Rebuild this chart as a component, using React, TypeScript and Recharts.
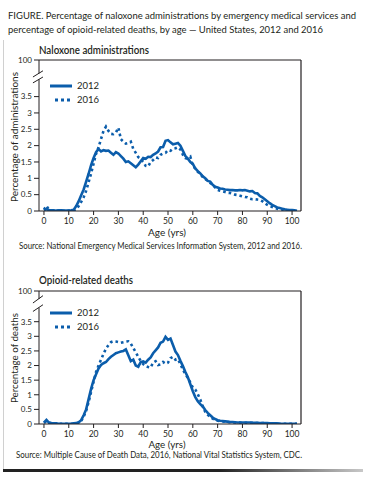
import { LineChart, Line, XAxis, YAxis, ReferenceLine } from 'recharts';

// ages 0..102, one point per year of age
const AGES = Array.from({ length: 103 }, (_, i) => i);

// % of EMS naloxone administrations by age
const NALOXONE_2012 = [
  0.03, 0.05, 0.03, 0.02, 0.02, 0.01, 0.02, 0.02, 0.01, 0.01,
  0.01, 0.02, 0.04, 0.15, 0.3, 0.48, 0.66, 0.9, 1.14, 1.4,
  1.62, 1.8, 1.9, 1.82, 1.86, 1.84, 1.85, 1.78, 1.72, 1.8,
  1.76, 1.68, 1.6, 1.5, 1.52, 1.46, 1.4, 1.34, 1.42, 1.52,
  1.62, 1.6, 1.66, 1.65, 1.72, 1.76, 1.82, 1.95, 1.96, 2.15,
  2.17, 2.1, 2.04, 2.06, 2.08, 2.0, 1.84, 1.68, 1.6, 1.5,
  1.44, 1.3, 1.22, 1.15, 1.06, 1.0, 0.92, 0.9, 0.8, 0.74,
  0.72, 0.69, 0.68, 0.66, 0.65, 0.64, 0.64, 0.63, 0.63, 0.64,
  0.63, 0.64, 0.62, 0.6, 0.61, 0.55, 0.54, 0.46, 0.42, 0.36,
  0.3, 0.24, 0.19, 0.15, 0.11, 0.09, 0.07, 0.05, 0.04, 0.03,
  0.03, 0.02, 0.01,
];
const NALOXONE_2016 = [
  0.04, 0.16, 0.04, 0.02, 0.01, 0.01, 0.01, 0.01, 0.01, 0.01,
  0.01, 0.01, 0.02, 0.05, 0.15, 0.28, 0.42, 0.62, 0.88, 1.15,
  1.45, 1.75, 1.95, 2.2, 2.45, 2.58, 2.45, 2.36, 2.35, 2.4,
  2.55, 2.2, 2.12, 2.06, 2.08, 2.12, 1.9, 1.78, 1.65, 1.6,
  1.5, 1.38, 1.36, 1.5, 1.56, 1.64, 1.62, 1.72, 1.76, 1.78,
  1.86, 1.84, 1.9, 1.92, 1.95, 1.88, 1.72, 1.62, 1.6, 1.66,
  1.38, 1.3, 1.2, 1.14, 1.04, 0.98, 0.92, 0.86, 0.8, 0.72,
  0.64, 0.62, 0.6, 0.58, 0.56, 0.55, 0.53, 0.5, 0.49, 0.47,
  0.45, 0.43, 0.42, 0.38, 0.36, 0.36, 0.35, 0.34, 0.3, 0.24,
  0.19, 0.15, 0.12, 0.09, 0.07, 0.05, 0.04, 0.03, 0.02, 0.02,
  0.01, 0.01, 0.01,
];

// % of opioid-related deaths by age
const DEATHS_2012 = [
  0.05, 0.14, 0.05, 0.03, 0.02, 0.02, 0.01, 0.01, 0.01, 0.01,
  0.01, 0.01, 0.02, 0.03, 0.06, 0.13, 0.3, 0.5, 0.85, 1.2,
  1.5, 1.7, 1.9, 2.02, 2.08, 2.12, 2.22, 2.3, 2.36, 2.42,
  2.45, 2.48, 2.5, 2.55, 2.35, 2.15, 2.2, 2.0, 1.96, 2.12,
  2.14, 2.1, 2.2, 2.28, 2.42, 2.52, 2.62, 2.78, 2.82, 2.98,
  2.88, 2.92, 2.7, 2.48, 2.36, 2.16, 1.98, 1.78, 1.6, 1.36,
  1.12, 0.92, 0.78, 0.68, 0.6, 0.48, 0.38, 0.3, 0.22, 0.17,
  0.13, 0.11, 0.1, 0.09, 0.08, 0.07, 0.07, 0.06, 0.05, 0.05,
  0.05, 0.05, 0.05, 0.05, 0.04, 0.04, 0.04, 0.03, 0.03, 0.03,
  0.03, 0.02, 0.02, 0.02, 0.02, 0.01, 0.01, 0.01, 0.01, 0.01,
  0.01, 0.01, 0.01,
];
const DEATHS_2016 = [
  0.04, 0.1, 0.04, 0.02, 0.01, 0.01, 0.01, 0.01, 0.01, 0.01,
  0.01, 0.01, 0.01, 0.02, 0.04, 0.1, 0.25, 0.45, 0.75, 1.1,
  1.45, 1.78, 2.0, 2.2, 2.4, 2.58, 2.7, 2.8, 2.83, 2.82,
  2.8, 2.78, 2.8, 2.82, 2.83, 2.75, 2.6, 2.45, 2.3, 2.15,
  2.05, 1.98, 1.95, 1.93, 2.1, 2.15, 2.02, 2.04, 2.12, 2.06,
  2.1, 2.25, 2.3, 2.2, 2.22, 2.05, 1.86, 1.7, 1.58, 1.42,
  1.24, 1.18, 1.02, 0.84, 0.6, 0.42, 0.32, 0.24, 0.18, 0.14,
  0.11, 0.1, 0.09, 0.08, 0.07, 0.06, 0.06, 0.05, 0.05, 0.05,
  0.04, 0.04, 0.04, 0.04, 0.04, 0.03, 0.03, 0.03, 0.03, 0.03,
  0.02, 0.02, 0.02, 0.02, 0.02, 0.01, 0.01, 0.01, 0.01, 0.01,
  0.01, 0.01, 0.01,
];

const X_TICKS = [0, 10, 20, 30, 40, 50, 60, 70, 80, 90, 100];
const Y_TICKS = [0, 0.5, 1, 1.5, 2, 2.5, 3, 3.5];
const SERIES = ['2012', '2016'];

const BLUE = '#0b5dab';
const INK = '#231f20';
const FONT = 'Lato, "Open Sans", sans-serif';
const X_MIN = -2;
const X_MAX = 103.6;

const naloxoneRows = AGES.map((age, i) => ({
  age,
  '2012': NALOXONE_2012[i],
  '2016': NALOXONE_2016[i],
}));
const deathRows = AGES.map((age, i) => ({
  age,
  '2012': DEATHS_2012[i],
  '2016': DEATHS_2016[i],
}));

type Slash = [number, number, number, number];

type PanelProps = {
  rows: Record<string, number>[];
  top: number;
  height: number;
  marginTop: number;
  yMax: number;
  gap: [number, number]; // where the y axis is broken
  slashes: Slash[];
};

const Panel = ({ rows, top, height, marginTop, yMax, gap, slashes }: PanelProps) => (
  <div style={{ position: 'absolute', left: 0, top, width: 366, height }}>
    <LineChart
      width={366}
      height={height}
      data={rows}
      margin={{ top: marginTop, right: 65, bottom: 0, left: 0 }}
    >
      <XAxis
        dataKey="age"
        type="number"
        domain={[X_MIN, X_MAX]}
        ticks={X_TICKS}
        interval={0}
        height={20}
        tickSize={4}
        tickMargin={2.5}
        axisLine={{ stroke: INK }}
        tickLine={{ stroke: INK }}
        tick={{ fill: INK, fontSize: 8.5, fontFamily: FONT }}
      />
      <YAxis
        type="number"
        domain={[0, yMax]}
        ticks={[...Y_TICKS, yMax]}
        interval={0}
        allowDataOverflow
        width={39}
        tickSize={5}
        tickMargin={2}
        axisLine={false}
        tickLine={{ stroke: INK }}
        tick={{ fill: INK, fontSize: 8, fontFamily: FONT }}
        tickFormatter={(v: number) => (v > 4 ? '100' : String(v))}
      />
      {/* frame + broken left axis */}
      <ReferenceLine y={yMax} stroke={INK} strokeWidth={1.2} />
      <ReferenceLine x={X_MAX} stroke={INK} strokeWidth={1.2} />
      <ReferenceLine
        segment={[{ x: X_MIN, y: 0 }, { x: X_MIN, y: gap[0] }]}
        stroke={INK}
        ifOverflow="visible"
      />
      <ReferenceLine
        segment={[{ x: X_MIN, y: gap[1] }, { x: X_MIN, y: yMax }]}
        stroke={INK}
        ifOverflow="visible"
      />
      {slashes.map(([x1, y1, x2, y2], i) => (
        <ReferenceLine
          key={i}
          segment={[{ x: x1, y: y1 }, { x: x2, y: y2 }]}
          stroke={INK}
          ifOverflow="visible"
        />
      ))}
      <Line
        dataKey={SERIES[0]}
        stroke={BLUE}
        strokeWidth={2.6}
        dot={false}
        isAnimationActive={false}
      />
      <Line
        dataKey={SERIES[1]}
        stroke={BLUE}
        strokeWidth={2.6}
        strokeDasharray="2.6 3"
        dot={false}
        isAnimationActive={false}
      />
    </LineChart>
  </div>
);

const Legend = ({ y }: { y: number }) => (
  <g>
    <line x1={50} x2={72} y1={y} y2={y} stroke={BLUE} strokeWidth={3} />
    <text x={77} y={y + 3} fontSize={9.5} fill={INK} fontFamily={FONT}>
      {SERIES[0]}
    </text>
    <line x1={55} x2={72} y1={y + 14} y2={y + 14} stroke={BLUE} strokeWidth={3} strokeDasharray="3 3" />
    <text x={77} y={y + 17} fontSize={9.5} fill={INK} fontFamily={FONT}>
      {SERIES[1]}
    </text>
  </g>
);

export default function App() {
  return (
    <div style={{ position: 'absolute', left: 0, top: 0, width: 366, height: 480, background: '#fff' }}>
      <Panel
        rows={naloxoneRows}
        top={0}
        height={231}
        marginTop={60}
        yMax={4.62}
        gap={[4.03, 4.21]}
        slashes={[
          [-4.44, 4.1, -0.4, 4.29],
          [-4.44, 3.92, -0.4, 4.1],
        ]}
      />
      <Panel
        rows={deathRows}
        top={240}
        height={204}
        marginTop={51}
        yMax={4.55}
        gap={[3.98, 4.28]}
        slashes={[
          [-4.44, 4.14, -0.4, 4.39],
          [-4.44, 3.85, -0.4, 4.08],
        ]}
      />
      <svg
        width={366}
        height={480}
        style={{ position: 'absolute', left: 0, top: 0, pointerEvents: 'none' }}
        fontFamily={FONT}
        fill={INK}
      >
        <line x1={3.5} x2={3.5} y1={40} y2={470} stroke="#d0d0d0" />
        <defs>
          <linearGradient id="bar" x1="0" x2="1" y1="0" y2="0">
            <stop offset="0.6" stopColor="#222" />
            <stop offset="1" stopColor="#c8c8c8" />
          </linearGradient>
        </defs>
        <rect x={3} y={469} width={360} height={3} fill="url(#bar)" />

        <text x={8} y={19} fontSize={9.6} textLength={348} lengthAdjust="spacingAndGlyphs">
          FIGURE. Percentage of naloxone administrations by emergency medical services and
        </text>
        <text x={8} y={33} fontSize={9.6} textLength={315} lengthAdjust="spacingAndGlyphs">
          percentage of opioid-related deaths, by age — United States, 2012 and 2016
        </text>

        <text x={39} y={53.5} fontSize={10.5} fontWeight={600} textLength={110} lengthAdjust="spacingAndGlyphs">
          Naloxone administrations
        </text>
        <text transform="translate(17.5,137) rotate(-90)" textAnchor="middle" fontSize={10} textLength={130} lengthAdjust="spacingAndGlyphs">
          Percentage of administrations
        </text>
        <Legend y={86} />
        <text x={167} y={235.5} textAnchor="middle" fontSize={10} textLength={38} lengthAdjust="spacingAndGlyphs">
          Age (yrs)
        </text>
        <text x={19} y={249} fontSize={8.5} textLength={283} lengthAdjust="spacingAndGlyphs">
          Source: National Emergency Medical Services Information System, 2012 and 2016.
        </text>

        <text x={39} y={283.5} fontSize={10.5} fontWeight={600} textLength={94} lengthAdjust="spacingAndGlyphs">
          Opioid-related deaths
        </text>
        <text transform="translate(17.5,358) rotate(-90)" textAnchor="middle" fontSize={10} textLength={90} lengthAdjust="spacingAndGlyphs">
          Percentage of deaths
        </text>
        <Legend y={313} />
        <text x={167} y={447.5} textAnchor="middle" fontSize={9.5} textLength={37} lengthAdjust="spacingAndGlyphs">
          Age (yrs)
        </text>
        <text x={16} y={457.5} fontSize={8.5} textLength={286} lengthAdjust="spacingAndGlyphs">
          Source: Multiple Cause of Death Data, 2016, National Vital Statistics System, CDC.
        </text>
      </svg>
    </div>
  );
}
